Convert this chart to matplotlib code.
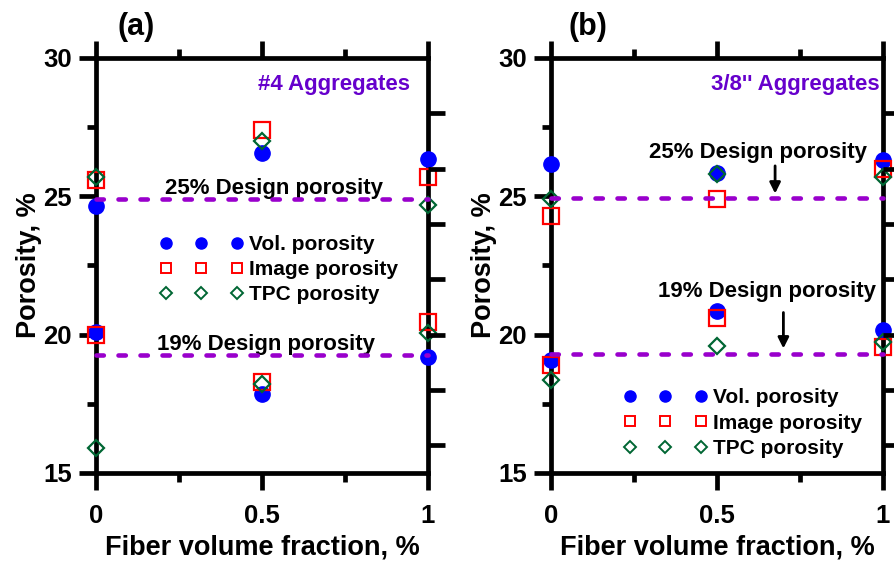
import numpy as np
import matplotlib
matplotlib.use('Agg')
import matplotlib.pyplot as plt
from matplotlib.lines import Line2D
from matplotlib.ticker import MultipleLocator

plt.rcParams['font.family'] = ['Liberation Sans', 'DejaVu Sans']
plt.rcParams['font.weight'] = 'bold'
plt.rcParams['axes.labelweight'] = 'bold'

# Fracción de fibra (dos mezclas por punto: 25% y 19% de diseño)
fibra = [0, 0, 0.5, 0.5, 1, 1]

# (a) #4 Aggregates
vol_a = [24.65, 20.1, 26.55, 17.85, 26.35, 19.2]
img_a = [25.6, 20.0, 27.4, 18.3, 25.7, 20.45]
tpc_a = [25.7, 15.9, 27.0, 18.2, 24.7, 20.05]
diseno_a = [24.9, 19.25]

# (b) 3/8'' Aggregates
vol_b = [26.15, 19.1, 25.85, 20.85, 26.3, 20.15]
img_b = [24.3, 18.9, 24.9, 20.6, 26.0, 19.55]
tpc_b = [24.9, 18.35, 25.8, 19.6, 25.7, 19.75]
diseno_b = [24.95, 19.3]

azul = '#0000ff'
rojo = '#ff0000'
verde = '#006633'
morado = '#9900cc'
morado_txt = '#6600cc'

fig = plt.figure(figsize=(8.94, 5.61), dpi=100)
ax_a = fig.add_axes([0.1074, 0.1569, 0.3714, 0.7398])
ax_b = fig.add_axes([0.6163, 0.1569, 0.3714, 0.7398])


def panel(ax, vol, img, tpc, diseno, letra, titulo, leg_pos):
    ax.plot(fibra, vol, 'o', ms=11, color=azul, ls='none', clip_on=False, zorder=3)
    ax.plot(fibra, img, 's', ms=11, mfc='none', mec=rojo, mew=1.6, ls='none', clip_on=False, zorder=3)
    ax.plot(fibra, tpc, 'D', ms=8.5, mfc='none', mec=verde, mew=1.6, ls='none', clip_on=False, zorder=3)
    for d in diseno:
        ax.plot([0, 1], [d, d], color=morado, lw=3.3, dashes=(1.6, 3.2),
                dash_capstyle='round', zorder=4, clip_on=False)

    ax.set_xlim(0, 1)
    ax.set_ylim(15, 30)
    ax.set_xticks([0, 0.5, 1])
    ax.set_xticklabels(['0', '0.5', '1'])
    ax.xaxis.set_minor_locator(MultipleLocator(0.25))
    ax.set_yticks([15, 20, 25, 30])
    ax.yaxis.set_minor_locator(MultipleLocator(2.5))
    ax.tick_params(which='both', direction='out', width=3.4, top=True, right=False,
                   labelsize=18.5)
    ax.tick_params(which='major', length=12.5)
    ax.tick_params(which='minor', length=6.5)
    ax.tick_params(axis='x', pad=9.5)
    ax.tick_params(axis='y', pad=5)
    for s in ax.spines.values():
        s.set_linewidth(3.4)

    ax2 = ax.twinx()
    ax2.set_ylim(15, 30)
    ax2.set_yticks(np.arange(16, 29, 2))
    ax2.tick_params(direction='out', width=3.4, length=12.5, labelright=False)
    for s in ax2.spines.values():
        s.set_visible(False)

    ax.set_xlabel('Fiber volume fraction, %', fontsize=19.5, fontweight='bold', labelpad=5)
    ax.set_ylabel('Porosity, %', fontsize=19.5, fontweight='bold', labelpad=1)
    ax.text(letra[1], 1.0747, letra[0], transform=ax.transAxes, fontsize=22,
            ha='center', va='center')
    ax.text(titulo[1], 29.05, titulo[0], transform=ax.get_yaxis_transform(),
            fontsize=16, color=morado_txt, ha='right', va='center')

    proxies = [Line2D([], [], ls='none', marker='o', ms=8, color=azul),
               Line2D([], [], ls='none', marker='s', ms=6.5, mfc='none', mec=rojo, mew=1.4),
               Line2D([], [], ls='none', marker='D', ms=5.8, mfc='none', mec=verde, mew=1.4)]
    ax.legend(proxies, ['Vol. porosity', 'Image porosity', 'TPC porosity'],
              numpoints=3, handlelength=4.0, handletextpad=0.3, labelspacing=0.3,
              borderpad=0, borderaxespad=0, frameon=False, fontsize=15,
              loc='center left', bbox_to_anchor=leg_pos)


panel(ax_a, vol_a, img_a, tpc_a, diseno_a, ('(a)', 0.12), ('#4 Aggregates', 0.946), (0.192, 0.49))
panel(ax_b, vol_b, img_b, tpc_b, diseno_b, ('(b)', 0.111), ("3/8'' Aggregates", 0.991), (0.219, 0.12))

# Etiquetas de porosidad de diseño
ax_a.text(0.535, 25.1, '25% Design porosity', fontsize=16, ha='center', va='baseline')
ax_a.text(0.513, 19.45, '19% Design porosity', fontsize=16, ha='center', va='baseline')
ax_b.text(0.625, 26.37, '25% Design porosity', fontsize=16, ha='center', va='baseline')
ax_b.text(0.652, 21.37, '19% Design porosity', fontsize=16, ha='center', va='baseline')
ax_b.annotate('', xy=(0.675, 25.0), xytext=(0.675, 26.2),
              arrowprops=dict(arrowstyle='-|>', color='k', lw=2, mutation_scale=16))
ax_b.annotate('', xy=(0.70, 19.4), xytext=(0.70, 20.9),
              arrowprops=dict(arrowstyle='-|>', color='k', lw=2, mutation_scale=16))

fig.savefig('out.png', dpi=100)
